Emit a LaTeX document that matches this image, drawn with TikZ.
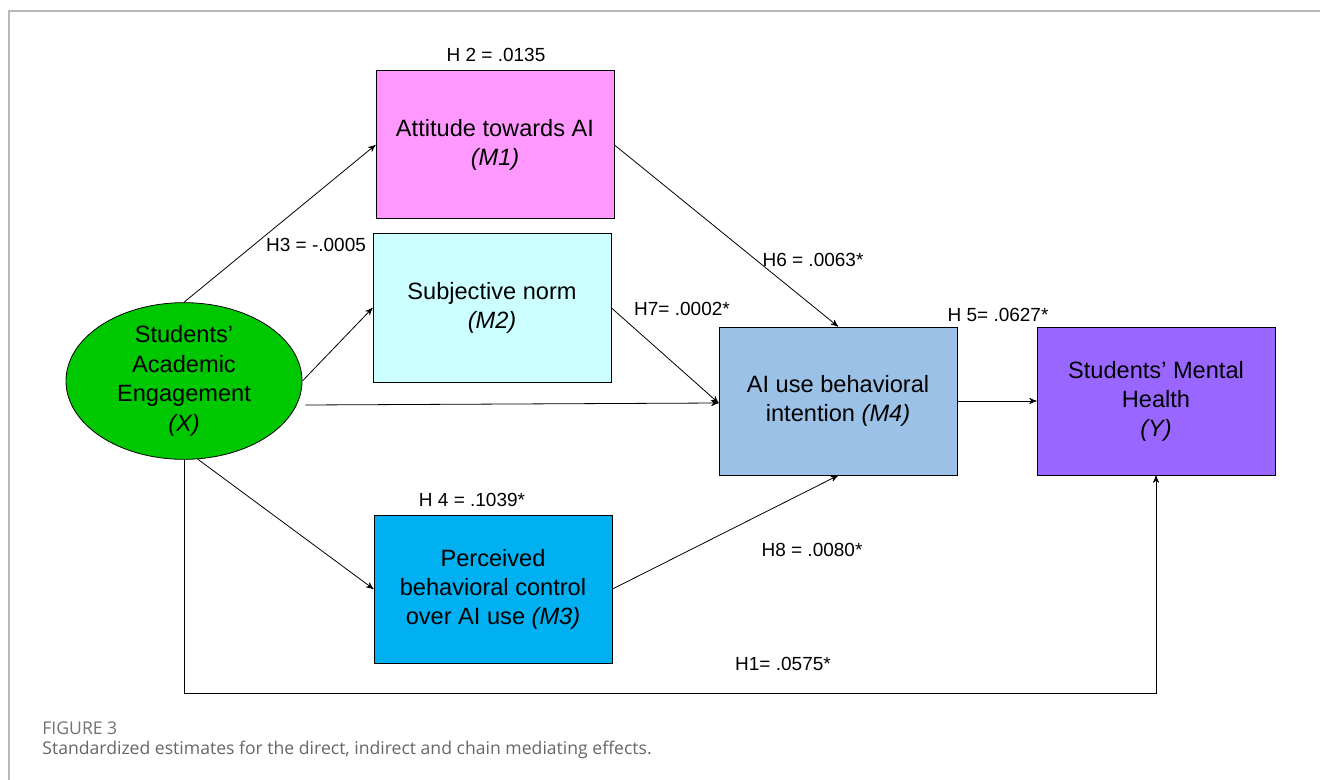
\documentclass[tikz,border=0pt]{standalone}
\usepackage{fontspec}
\setmainfont{Liberation Sans}
\newfontfamily\capfont{Open Sans}
\usetikzlibrary{arrows, positioning, calc, shapes}

\definecolor{cPink}{RGB}{255,153,255}
\definecolor{cCyan}{RGB}{204,255,255}
\definecolor{cSteel}{RGB}{155,194,230}
\definecolor{cViolet}{RGB}{153,102,255}
\definecolor{cSky}{RGB}{0,176,240}
\definecolor{cGreen}{RGB}{0,200,0}

\begin{document}
\begin{tikzpicture}[x=0.5pt,y=-0.5pt,->,>=stealth',
  every node/.style={font=\fontsize{11.8}{14.5}\selectfont,align=center},
  box/.style={rectangle,draw,line width=0.5pt,minimum width=119pt,minimum height=74pt,inner sep=2pt},
  hlab/.style={font=\fontsize{9.5}{11}\selectfont,inner sep=0pt},
%scale=0.7, transform shape
]
\useasboundingbox (0,0) rectangle (1320,780);
\draw[-,black!28,line width=1.1pt] (9,780) |- (1320,11);

\node[ellipse,draw,fill=cGreen,minimum width=118pt,minimum height=75pt,inner sep=0pt,
      font=\fontsize{11.8}{14.8}\selectfont] (nX) at (184,381)
   {Students'\\Academic\\Engagement\\\textit{(X)}};
\node[box,fill=cPink] (nM1) at (495,145) {Attitude towards AI\\\textit{(M1)}};
\node[box,fill=cCyan] (nM2) at (492,308) {Subjective norm\\\textit{(M2)}};
\node[box,fill=cSky] (nM3) at (493,589) {Perceived\\behavioral control\\over AI use \textit{(M3)}};
\node[box,fill=cSteel] (nM4) at (838,401) {AI use behavioral\\intention \textit{(M4)}};
\node[box,fill=cViolet] (nY) at (1156,401) {Students' Mental\\Health\\\textit{(Y)}};

% hypothesis labels
\node[hlab] (lH2) at (496,55) {H 2 = .0135};
\node[hlab] (lH3) at (316,245) {H3 = -.0005};
\node[hlab] (lH6) at (813,260) {H6 = .0063*};
\node[hlab] (lH7) at (682,309) {H7= .0002*};
\node[hlab] (lH5) at (998,315) {H 5= .0627*};
\node[hlab] (lH4) at (472,500) {H 4 = .1039*};
\node[hlab] (lH8) at (812,550) {H8 = .0080*};
\node[hlab] (lH1) at (783,664) {H1= .0575*};

\draw (nX.north) -- (nM1.west);
\draw (nX.east) -- (nM2.west);
\draw ($(nX.east)+(3,24)$) -- ($(nM4.west)+(0,2)$);
\draw (nX.-80) -- (nM3.west);
\draw (nX.south) -- ++(0,234) -| (nY.south);
\draw (nM1.east) -- (nM4.north);
\draw (nM2.east) -- ($(nM4.west)+(0,2)$);
\draw (nM3.east) -- (nM4.south);
\draw (nM4.east) -- (nY.west);

% caption
\node[font=\capfont\fontsize{8.8}{10}\selectfont,text=black!55,anchor=west,inner sep=0pt] (cFig) at (42,728) {FIGURE 3};
\node[font=\capfont\fontsize{8.8}{10}\selectfont,text=black!60,anchor=west,inner sep=0pt] (cText) at (42,750)
   {Standardized estimates for the direct, indirect and chain mediating effects.};
\end{tikzpicture}
\end{document}
